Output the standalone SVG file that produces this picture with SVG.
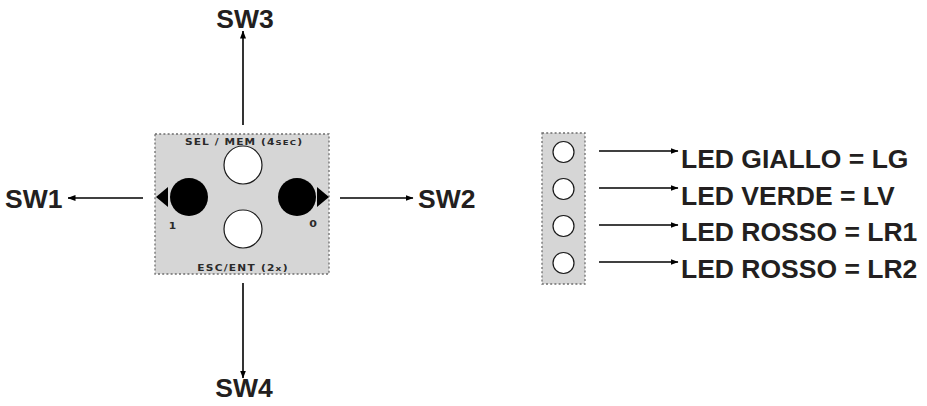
<svg xmlns="http://www.w3.org/2000/svg" width="927" height="406" viewBox="0 0 927 406">
  <style>
    .lbl { font-family: "Liberation Sans", Arial, sans-serif; font-weight: bold; font-size: 26.5px; fill: #231f20; }
    .tiny { font-family: "DejaVu Sans", "Liberation Sans", sans-serif; font-weight: bold; font-size: 8.5px; fill: #2a2a2a; }
    .panel { fill: #d6d6d6; stroke: #6e6e6e; stroke-width: 1.3; stroke-dasharray: 2 2.2; }
    .btn { fill: #ffffff; stroke: #1a1a1a; stroke-width: 1.2; }
    .knob { fill: #000000; }
    .wire { stroke: #000000; stroke-width: 1.6; fill: none; marker-end: url(#tip); }
  </style>
  <defs>
    <marker id="tip" viewBox="0 0 8 6" refX="7.5" refY="3" markerWidth="8" markerHeight="6" markerUnits="userSpaceOnUse" orient="auto">
      <path d="M0,0 L8,3 L0,6 Z" fill="#000"/>
    </marker>
  </defs>

  <!-- keypad -->
  <g id="keypad">
    <rect class="panel" x="155" y="134" width="174" height="140"/>
    <text class="tiny" transform="translate(244,144.5) scale(1.25,1)" text-anchor="middle" letter-spacing="0.9">SEL / MEM (4<tspan font-size="6.8px">SEC</tspan>)</text>
    <text class="tiny" transform="translate(243,270.5) scale(1.25,1)" text-anchor="middle" letter-spacing="1">ESC/ENT (2<tspan font-size="7.2px">x</tspan>)</text>
    <circle class="btn" cx="243" cy="165" r="19"/>
    <circle class="btn" cx="243" cy="229" r="19"/>
    <circle class="knob" cx="189" cy="197" r="19"/>
    <circle class="knob" cx="297" cy="197" r="19"/>
    <path d="M156,197 L168,187 L168,207 Z" fill="#000"/>
    <path d="M329,197 L317,187 L317,207 Z" fill="#000"/>
    <text class="tiny" transform="translate(172.5,229) scale(1.25,1)" text-anchor="middle">1</text>
    <text class="tiny" transform="translate(313,226.5) scale(1.3,1)" text-anchor="middle">0</text>
  </g>

  <!-- LED strip -->
  <g id="leds">
    <rect class="panel" x="542" y="133" width="43" height="151"/>
    <circle class="btn" cx="563.5" cy="152" r="10.5"/>
    <circle class="btn" cx="563.5" cy="189" r="10.5"/>
    <circle class="btn" cx="563.5" cy="226" r="10.5"/>
    <circle class="btn" cx="563.5" cy="263" r="10.5"/>
  </g>

  <g id="connectors">
    <line class="wire" x1="243" y1="125" x2="243" y2="31"/>
    <line class="wire" x1="243" y1="283" x2="243" y2="378"/>
    <line class="wire" x1="143" y1="198" x2="68" y2="198"/>
    <line class="wire" x1="340" y1="198" x2="413" y2="198"/>
    <line class="wire" x1="599" y1="151" x2="678" y2="151"/>
    <line class="wire" x1="599" y1="188" x2="678" y2="188"/>
    <line class="wire" x1="599" y1="225" x2="678" y2="225"/>
    <line class="wire" x1="599" y1="262" x2="678" y2="262"/>
  </g>

  <g id="sw3"><text class="lbl" x="245" y="28" text-anchor="middle">SW3</text></g>
  <g id="sw4"><text class="lbl" x="244" y="397" text-anchor="middle">SW4</text></g>
  <g id="sw1"><text class="lbl" x="5" y="208">SW1</text></g>
  <g id="sw2"><text class="lbl" x="418" y="208">SW2</text></g>

  <g id="led-lg"><text class="lbl" x="681" y="167.5">LED GIALLO = LG</text></g>
  <g id="led-lv"><text class="lbl" x="681" y="204.5">LED VERDE = LV</text></g>
  <g id="led-lr1"><text class="lbl" x="681" y="241">LED ROSSO = LR1</text></g>
  <g id="led-lr2"><text class="lbl" x="681" y="278">LED ROSSO = LR2</text></g>
</svg>
